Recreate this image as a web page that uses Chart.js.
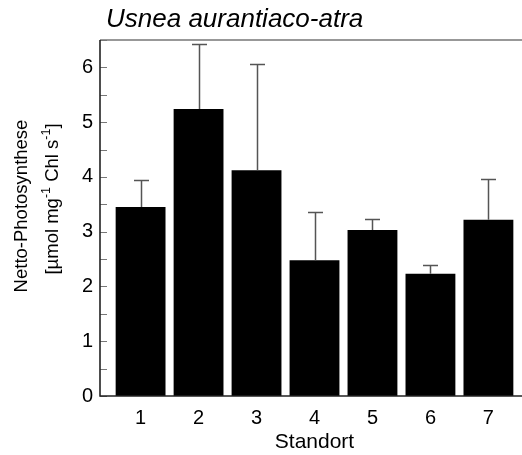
<!DOCTYPE html>
<html>
<head>
<meta charset="utf-8">
<script src="https://cdn.jsdelivr.net/npm/chart.js@4.4.0/dist/chart.umd.min.js"></script>
<style>
html,body{margin:0;padding:0;background:#fff;overflow:hidden}
#wrap{width:530px;height:455px}
</style>
</head>
<body>
<div id="wrap"><canvas id="chart"></canvas></div>
<script>
const standorte=[1,2,3,4,5,6,7];
const means=[3.45,5.24,4.12,2.48,3.03,2.23,3.22];
const errUp=[0.50,1.18,1.94,0.88,0.21,0.17,0.75];
const yTicks=[0,1,2,3,4,5,6];
const yMarks=[0,0.5,1,1.5,2,2.5,3,3.5,4,4.5,5,5.5,6,6.5];
const title='Usnea aurantiaco-atra';
const yLabel1='Netto-Photosynthese';
const yLabel2=[['[µmol mg',false],['-1',true],[' Chl s',false],['-1',true],[']',false]];
const xLabel='Standort';

const F='"Liberation Sans", Arial, sans-serif';

// error bars, frame, inward ticks and texts
const frame={
  id:'frame',
  afterDatasetsDraw(chart){
    const ctx=chart.ctx, y=chart.scales.y, a=chart.chartArea;
    const meta=chart.getDatasetMeta(0);
    ctx.save();
    ctx.strokeStyle='#555'; ctx.lineWidth=1.5;
    meta.data.forEach((bar,i)=>{
      const top=Math.round(y.getPixelForValue(means[i]+errUp[i]))+0.5;
      const x=Math.round(bar.x)+0.5;
      ctx.beginPath();
      ctx.moveTo(x,bar.y); ctx.lineTo(x,top);
      ctx.moveTo(x-7.5,top); ctx.lineTo(x+7.5,top);
      ctx.stroke();
    });
    // inward ticks
    ctx.strokeStyle='#777'; ctx.lineWidth=1.2;
    yMarks.forEach(v=>{
      const p=Math.round(y.getPixelForValue(v))+0.5;
      ctx.beginPath();
      ctx.moveTo(a.left,p); ctx.lineTo(a.left+7,p);
      ctx.moveTo(a.right,p); ctx.lineTo(a.right-7,p);
      ctx.stroke();
    });
    // spines
    ctx.lineWidth=1.6;
    ctx.strokeStyle='#777';
    ctx.beginPath();
    ctx.moveTo(a.left,a.top); ctx.lineTo(a.right,a.top); ctx.lineTo(a.right,a.bottom);
    ctx.stroke();
    ctx.strokeStyle='#222';
    ctx.beginPath();
    ctx.moveTo(a.left,a.top); ctx.lineTo(a.left,a.bottom); ctx.lineTo(a.right,a.bottom);
    ctx.stroke();

    // title
    ctx.fillStyle='#000';
    ctx.font='italic 26px '+F;
    ctx.textAlign='left'; ctx.textBaseline='alphabetic';
    ctx.fillText(title,a.left+6,27);

    // y axis label, two lines, rotated
    ctx.save();
    ctx.translate(27,206); ctx.rotate(-Math.PI/2);
    ctx.font='18.5px '+F; ctx.textAlign='center';
    ctx.fillText(yLabel1,0,0);
    ctx.restore();

    ctx.save();
    ctx.translate(58,199); ctx.rotate(-Math.PI/2);
    ctx.textAlign='left';
    let total=0;
    yLabel2.forEach(([t,sup])=>{ctx.font=(sup?'12.5px ':'18.5px ')+F; total+=ctx.measureText(t).width;});
    let cx=-total/2;
    yLabel2.forEach(([t,sup])=>{
      ctx.font=(sup?'12.5px ':'18.5px ')+F;
      ctx.fillText(t,cx,sup?-8:0);
      cx+=ctx.measureText(t).width;
    });
    ctx.restore();
    ctx.restore();
  }
};

const ctx=document.getElementById('chart').getContext('2d');
new Chart(ctx,{
  type:'bar',
  data:{
    datasets:[{
      data:standorte.map((s,i)=>({x:s,y:means[i]})),
      backgroundColor:'#000',
      borderWidth:0,
      barPercentage:0.86,
      categoryPercentage:1
    }]
  },
  options:{
    responsive:true,
    maintainAspectRatio:false,
    animation:false,
    layout:{padding:{top:40,left:82,right:1,bottom:0}},
    plugins:{legend:{display:false},tooltip:{enabled:false}},
    scales:{
      x:{
        type:'linear',min:0.3,max:7.7,offset:false,
        grid:{display:false,drawTicks:false},
        border:{display:false},
        afterBuildTicks:s=>{s.ticks=standorte.map(v=>({value:v}));},
        afterFit:s=>{s.height=59;},
        ticks:{font:{size:20,family:F,lineHeight:1.2},color:'#000',padding:10,maxRotation:0},
        title:{display:true,text:xLabel,font:{size:21,family:F,lineHeight:1.2},color:'#000',padding:{top:3,bottom:0}}
      },
      y:{
        min:0,max:6.5,
        grid:{display:false,drawTicks:false},
        border:{display:false},
        afterBuildTicks:s=>{s.ticks=yTicks.map(v=>({value:v}));},
        afterFit:s=>{s.width=18;},
        ticks:{font:{size:20,family:F,lineHeight:1.2},color:'#000',padding:7}
      }
    }
  },
  plugins:[frame]
});
</script>
</body>
</html>
